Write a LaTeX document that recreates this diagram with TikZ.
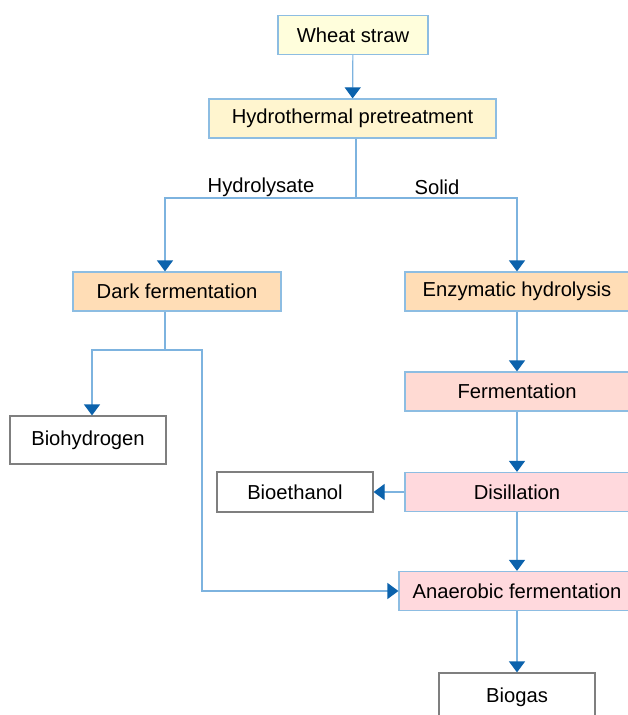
\documentclass[tikz,border=0pt]{standalone}
\usepackage{fontspec}
\setmainfont{Liberation Sans}
\usetikzlibrary{arrows.meta}

\definecolor{straw}{HTML}{FFFEDC}
\definecolor{pretreat}{HTML}{FFF5CF}
\definecolor{peach}{HTML}{FFDDB6}
\definecolor{pinkA}{HTML}{FFDAD3}
\definecolor{pinkB}{HTML}{FFD9DD}
\definecolor{boxblue}{HTML}{8DBDE2}
\definecolor{lineblue}{HTML}{7DB3DF}
\definecolor{tipblue}{HTML}{0B62AC}
\definecolor{outgray}{HTML}{7F7F7F}

\tikzset{
    procbox/.style={draw=boxblue, line width=1.2pt, minimum height=39pt,
        inner sep=0pt, font=\fontsize{20.2}{24}\selectfont},
    outbox/.style={procbox, draw=outgray, fill=white, minimum width=156pt},
    link/.style={draw=lineblue, line width=1.2pt},
    flow/.style={link, -{Triangle[width=16pt,length=11pt,color=tipblue]}},
    branchlabel/.style={font=\fontsize{20.2}{24}\selectfont, inner sep=0pt}
}

\begin{document}
\begin{tikzpicture}[x=1pt,y=-1pt]

\useasboundingbox (0,0) rectangle (627,715);

% main boxes
\node[procbox, fill=straw, minimum width=150pt] (wheat) at (353,35) {Wheat straw};
\node[procbox, fill=pretreat, minimum width=287pt] (hydro) at (352.5,118.5) {Hydrothermal pretreatment};
\node[procbox, fill=peach, minimum width=208pt] (dark) at (177,291.5) {Dark fermentation};
\node[procbox, fill=peach, minimum width=224pt] (enzyme) at (517,291.5) {Enzymatic hydrolysis};
\node[procbox, fill=pinkA, minimum width=224pt] (ferm) at (517,391.5) {Fermentation};
\node[procbox, fill=pinkB, minimum width=224pt] (distil) at (517,492) {Disillation};
\node[procbox, fill=pinkB, minimum width=236pt] (anaer) at (517,591) {Anaerobic fermentation};

% products
\node[outbox, minimum height=48pt] (hydrogen) at (88,440) {Biohydrogen};
\node[outbox, minimum height=40pt] (ethanol) at (295,492) {Bioethanol};
\node[outbox, minimum height=48pt] (biogas) at (517,697) {Biogas};

% branch labels
\node[branchlabel] (hlabel) at (261,187) {Hydrolysate};
\node[branchlabel] (slabel) at (437,187) {Solid};

\draw[flow] (wheat) -- (hydro);

% split after pretreatment
\coordinate (split) at (356,198);
\coordinate (toDark) at (165,198);
\coordinate (toEnz) at (517,198);
\draw[link] (hydro.south -| split) -- (split);
\draw[flow] (split) -- (toDark) -- (toDark |- dark.north);
\draw[flow] (split) -- (toEnz) -- (toEnz |- enzyme.north);

% left branch
\coordinate (darksplit) at (165,350);
\coordinate (toH) at (92,350);
\coordinate (toA) at (202,350);
\draw[link] (dark.south -| darksplit) -- (darksplit);
\draw[flow] (darksplit) -- (toH) -- (toH |- hydrogen.north);
\draw[flow] (darksplit) -- (toA) |- (anaer.west);

% right branch
\foreach \a/\b in {enzyme/ferm, ferm/distil, distil/anaer, anaer/biogas}
    \draw[flow] (\a) -- (\b);
\draw[flow] (distil) -- (ethanol);

\end{tikzpicture}
\end{document}
